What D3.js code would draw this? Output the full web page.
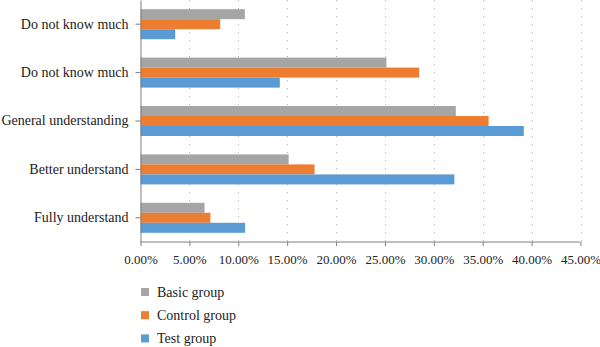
<!DOCTYPE html>
<html>
<head>
<meta charset="utf-8">
<script src="https://cdn.jsdelivr.net/npm/d3@7"></script>
<style>
  html, body { margin: 0; padding: 0; background: #fff; }
  svg { display: block; }
</style>
</head>
<body>
<svg id="chart" width="600" height="347"></svg>
<script>
// Survey responses: share of each group per level of understanding
const categories = ["Do not know much", "Do not know much ", "General understanding", "Better understand", "Fully understand"];
const seriesNames = ["Basic group", "Control group", "Test group"];
const basicGroup   = [10.67, 25.15, 32.25, 15.15, 6.55];
const controlGroup = [8.15, 28.50, 35.60, 17.80, 7.15];
const testGroup    = [3.55, 14.25, 39.20, 32.10, 10.70];
const xTicks = [0, 5, 10, 15, 20, 25, 30, 35, 40, 45];
const colors = ["#A5A5A5", "#ED7D31", "#5B9BD5"];

const series = [basicGroup, controlGroup, testGroup];
const FONT = "'Liberation Serif', 'Times New Roman', Tinos, 'DejaVu Serif', 'Noto Serif', serif";

const svg = d3.select("#chart").attr("font-family", FONT);
const margin = { left: 140.5, right: 19.5, top: 0, bottom: 105 };
const W = 600, H = 347;

const x = d3.scaleLinear().domain([0, 45]).range([margin.left, W - margin.right]);
const y = d3.scaleBand().domain(categories).range([margin.top, H - margin.bottom])
  .paddingInner(0.38).paddingOuter(0.19);
const ySub = d3.scaleBand().domain(d3.range(series.length)).range([0, y.bandwidth()]);

// dotted vertical gridlines
svg.append("g")
  .selectAll("line")
  .data(xTicks.slice(1))
  .join("line")
  .attr("x1", d => Math.round(x(d)) + 0.5)
  .attr("x2", d => Math.round(x(d)) + 0.5)
  .attr("y1", margin.top)
  .attr("y2", H - margin.bottom)
  .attr("stroke", "#b8b8b8")
  .attr("stroke-width", 1)
  .attr("stroke-dasharray", "1.2,6.8");

// bars
const groups = svg.append("g")
  .selectAll("g")
  .data(categories)
  .join("g")
  .attr("transform", d => `translate(0,${y(d)})`);

groups.selectAll("rect")
  .data((c, i) => series.map((s, k) => ({ k, v: s[i] })))
  .join("rect")
  .attr("x", x(0))
  .attr("y", d => ySub(d.k))
  .attr("width", d => x(d.v) - x(0))
  .attr("height", ySub.bandwidth())
  .attr("fill", d => colors[d.k]);

// x axis
const xAxis = d3.axisBottom(x)
  .tickValues(xTicks)
  .tickFormat(d => d.toFixed(2) + "%")
  .tickSize(4)
  .tickPadding(9);
const gx = svg.append("g")
  .attr("transform", `translate(0,${H - margin.bottom})`)
  .call(xAxis)
  .attr("font-family", FONT)
  .attr("font-size", 13);
gx.select(".domain").attr("stroke", "#7f7f7f").attr("d", `M${x(0)},0H${x(45)}`);
gx.selectAll(".tick line").attr("stroke", "#7f7f7f");
gx.selectAll(".tick text").attr("fill", "#222");

// y axis
const yAxis = d3.axisLeft(y).tickSize(5).tickPadding(7).tickSizeOuter(0);
const gy = svg.append("g")
  .attr("transform", `translate(${margin.left},0)`)
  .call(yAxis)
  .attr("font-family", FONT)
  .attr("font-size", 14);
gy.select(".domain").attr("stroke", "#7f7f7f");
gy.selectAll(".tick line").attr("stroke", "#7f7f7f");
gy.selectAll(".tick text")
  .attr("fill", "#222")
  .text(d => d.trim());

// legend
const legend = svg.append("g")
  .attr("transform", "translate(141,0)")
  .attr("font-family", FONT)
  .attr("font-size", 14);
const legendItems = legend.selectAll("g")
  .data(seriesNames)
  .join("g")
  .attr("transform", (d, i) => `translate(0,${292 + i * 23.2})`);
legendItems.append("rect")
  .attr("x", 0).attr("y", -4)
  .attr("width", 8).attr("height", 8)
  .attr("fill", (d, i) => colors[i]);
legendItems.append("text")
  .attr("x", 16).attr("y", 4.5)
  .attr("fill", "#222")
  .text(d => d);
</script>
</body>
</html>
